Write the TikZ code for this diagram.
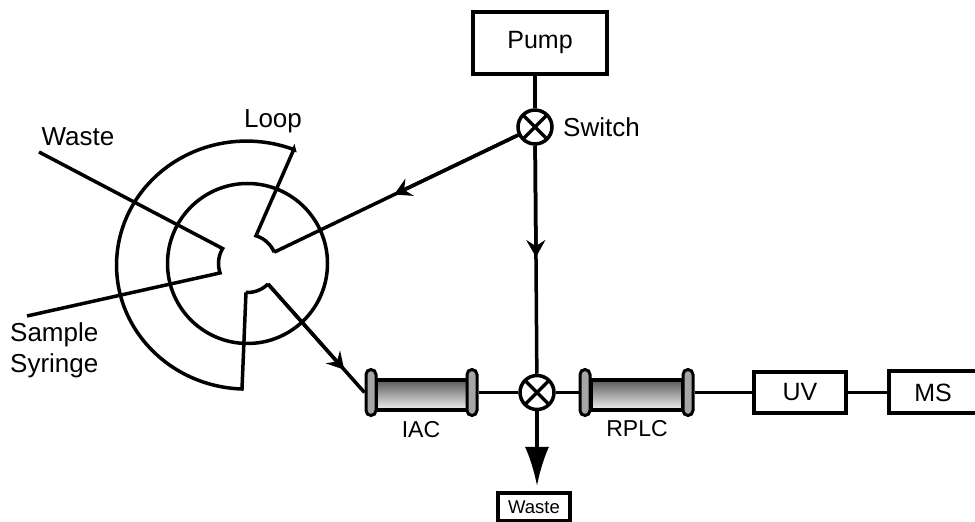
\documentclass[tikz,border=0pt]{standalone}
\usepackage{fontspec}
\setmainfont{Liberation Sans}
\usetikzlibrary{calc,arrows.meta}

\tikzset{
  wire/.style={line width=3.5pt,line join=miter},
  flow/.style={wire,-{Stealth[length=17pt,width=19pt,inset=6pt]}},
  instrument/.style={draw,line width=4pt,inner sep=0pt,font=\fontsize{25}{25}\selectfont},
  valve/.style={circle,draw,line width=3.5pt,minimum size=34pt,inner sep=0pt,
    path picture={
      \draw[line width=3.5pt] (path picture bounding box.north west) -- (path picture bounding box.south east);
      \draw[line width=3.5pt] (path picture bounding box.north east) -- (path picture bounding box.south west);
    }},
  column/.style={draw,line width=3.5pt,minimum width=92pt,minimum height=30pt,inner sep=0pt,top color=black!65,bottom color=black!5},
  endcap/.style={draw,line width=3pt,rounded corners=5pt,fill=black!35,minimum width=10pt,minimum height=46pt,inner sep=0pt},
  label/.style={font=\fontsize{26}{26}\selectfont,inner sep=0pt}
}

\begin{document}
\begin{tikzpicture}[x=1pt,y=1pt]
  \useasboundingbox (0,0) rectangle (975,522);

  % instruments
  \node[instrument,minimum width=134pt,minimum height=62pt] (pump) at (540,479) {Pump};
  \node[valve] (switch) at (535,395) {};
  \node[label,anchor=west] (switchlabel) at (563,395) {Switch};
  \node[valve] (tee) at (537,129.5) {};
  \node[instrument,minimum width=72pt,minimum height=28pt,font=\fontsize{18.5}{18.5}\selectfont] (waste) at (534,15) {Waste};
  \node[instrument,minimum width=92pt,minimum height=41pt] (uv) at (800,129.5) {UV};
  \node[instrument,minimum width=88pt,minimum height=42pt] (ms) at (933,129.5) {MS};

  % columns
  \node[column] (iac) at (422,127) {};
  \node[endcap] (iacleft) at (371,129.5) {};
  \node[endcap] (iacright) at (472,129.5) {};
  \node[label,font=\fontsize{23}{23}\selectfont] (iaclabel) at (421,92) {IAC};
  \node[column] (rplc) at (637,127) {};
  \node[endcap] (rplcleft) at (585,129.5) {};
  \node[endcap] (rplcright) at (688,129.5) {};
  \node[label,font=\fontsize{23}{23}\selectfont] (rplclabel) at (637,93) {RPLC};

  % injection valve
  \coordinate (C) at (247.5,258.5);
  \coordinate (P1) at ($ (C) + (73:29) $);
  \coordinate (P2) at ($ (C) + (23:29) $);
  \coordinate (P3) at ($ (C) + (149:29) $);
  \coordinate (P4) at ($ (C) + (199:29) $);
  \coordinate (P5) at ($ (C) + (267:29) $);
  \coordinate (P6) at ($ (C) + (315:29) $);
  \coordinate (loopend) at (294,373);
  \coordinate (wasteend) at (39,370);
  \coordinate (syringeend) at (27,206);

  \draw[wire] (C) circle [radius=80];
  \draw[wire] (P5) -- (242,133) arc [start angle=268,end angle=68.5,x radius=130,y radius=124] -- (loopend) -- (P1)
    arc [start angle=73,end angle=23,radius=29];
  \draw[wire] (wasteend) -- (P3) arc [start angle=149,end angle=199,radius=29] -- (syringeend);
  \draw[wire] (P5) arc [start angle=267,end angle=315,radius=29];

  \node[label] (wastelabel) at (78,385) {Waste};
  \node[label] (looplabel) at (273,401) {Loop};
  \node[label,anchor=west] (samplelabel) at (10,187) {Sample};
  \node[label,anchor=west] (syringelabel) at (10,156) {Syringe};

  % flow lines
  \draw[wire] (switch |- pump.south) -- (switch);
  \draw[wire] (P2) -- (switch);
  \draw[flow] (switch) -- ($ (switch) ! 0.54 ! (P2) $);
  \draw[wire] (switch) -- (tee);
  \draw[flow] (switch) -- ($ (switch) ! 0.49 ! (tee) $);
  \draw[wire] (P6) -- (iacleft.west);
  \draw[flow] (P6) -- ($ (P6) ! 0.79 ! (iacleft.west) $);
  \draw[wire] (iacright) -- (tee);
  \draw[wire] (tee) -- (rplcleft);
  \draw[wire] (rplcright) -- (uv);
  \draw[wire] (uv) -- (ms);
  \draw[wire,shorten >=5pt,-{Latex[length=39pt,width=24pt]}] (tee) -- (tee |- waste.north);
\end{tikzpicture}
\end{document}
